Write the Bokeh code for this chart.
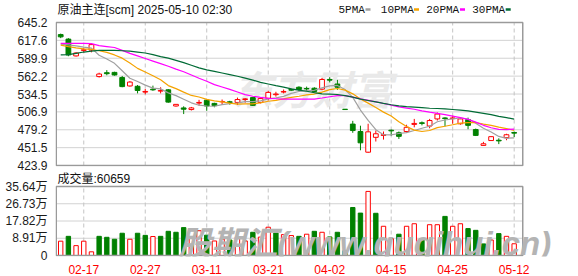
from bokeh.plotting import figure
from bokeh.layouts import column
from bokeh.models import ColumnDataSource, Range1d, FixedTicker, PrintfTickFormatter
from bokeh.core.properties import value
from bokeh.embed import file_html
from bokeh.resources import INLINE

# ---------------- data ----------------
dates = ["02-12", "02-13", "02-14", "02-17", "02-18", "02-19", "02-20", "02-21", "02-24", "02-25",
         "02-26", "02-27", "02-28", "03-03", "03-04", "03-05", "03-06", "03-07", "03-10", "03-11",
         "03-12", "03-13", "03-14", "03-17", "03-18", "03-19", "03-20", "03-21", "03-24", "03-25",
         "03-26", "03-27", "03-28", "03-31", "04-01", "04-02", "04-03", "04-07", "04-08", "04-09",
         "04-10", "04-11", "04-14", "04-15", "04-16", "04-17", "04-18", "04-21", "04-22", "04-23",
         "04-24", "04-25", "04-28", "04-29", "04-30", "05-06", "05-07", "05-08", "05-09", "05-12"]

opens = [626.5, 619.5, 593.5, 602, 602.5, 561.5, 567.5, 568, 560, 547,
         546.5, 537.5, 542, 539, 541, 516, 513, 510.5, 520.5, 525,
         520, 522.5, 522.5, 521.5, 526, 529, 521.5, 528, 533.5, 537.5,
         541.5, 545, 543, 543.5, 542, 557, 550, 511, 488, 476.5,
         444.5, 467.5, 470.5, 478.5, 474.5, 476.5, 487.5, 490, 485, 496,
         497.5, 496.5, 488.5, 495, 479.5, 455, 462.5, 463, 467, 475]
highs = [628, 621, 599, 606.5, 613, 567.5, 571.5, 569, 562.5, 554.5,
         548.5, 542.5, 547.5, 545, 542, 519, 515.5, 514.5, 525.5, 526,
         521, 526, 524, 529, 528, 530, 528, 539.5, 538, 541.5,
         543, 546.5, 546, 545, 559.5, 560.5, 556.5, 511, 493, 485.5,
         488.5, 478, 476.5, 479.5, 476.5, 487, 496, 492, 496, 506,
         498.5, 501, 497.5, 498, 481, 460.5, 469, 466, 473, 476.5]
lows = [621, 593, 592.5, 599, 599, 560, 563.5, 563, 545, 546,
        535.5, 534, 539.5, 535.5, 521, 515, 503.5, 509, 516.5, 508.5,
        514, 518, 518, 517.5, 521, 516, 520, 524.5, 530.5, 535.5,
        539.5, 539.5, 539, 537.5, 540.5, 552.5, 541, 510.5, 474.5, 447.5,
        443.5, 461, 464, 470, 465, 474.5, 483, 486, 481.5, 493.5,
        484.5, 488.5, 487, 480, 469.5, 454.5, 462, 457, 463, 468]
closes = [623, 595, 598, 603, 611, 565.5, 566, 564, 546, 553,
          540, 538.5, 541, 540, 522, 518.5, 511, 513, 521.5, 516,
          516.5, 523, 521.5, 526, 527, 517, 527.5, 537, 534.5, 538.5,
          540.5, 541.5, 542.5, 538.5, 557, 556, 545, 510.5, 478, 459,
          476, 473, 471.5, 477.5, 469, 483, 489, 489, 493.5, 503.5,
          496.5, 497.5, 496, 486, 470.5, 457.5, 468.5, 462, 471.5, 474]

ma5 = [611.8, 610.5, 609.0, 607.0, 605.5, 594.5, 588.7, 582.0, 570.5, 559.0,
       553.8, 548.3, 543.7, 542.5, 536.3, 532.0, 526.5, 520.9, 517.2, 516.0,
       515.6, 518.0, 519.7, 520.6, 522.8, 522.9, 523.8, 526.9, 528.6, 530.9,
       535.6, 538.4, 539.5, 540.3, 544.0, 547.1, 547.8, 541.4, 529.3, 509.7,
       493.7, 479.3, 471.5, 471.4, 473.4, 474.8, 478.0, 481.5, 484.7, 491.6,
       494.3, 496.0, 497.4, 495.9, 489.3, 481.5, 475.7, 468.9, 466.0, 466.7]
ma10 = [610.3, 608.0, 606.0, 604.5, 603.5, 601.5, 598.9, 595.0, 590.0, 582.5,
        574.2, 568.5, 562.8, 556.5, 547.6, 542.9, 537.4, 532.3, 529.9, 526.2,
        523.8, 522.3, 520.3, 518.9, 519.4, 519.3, 520.9, 523.3, 524.6, 526.9,
        529.3, 531.1, 533.2, 534.5, 537.5, 541.4, 543.1, 540.5, 534.8, 526.9,
        520.4, 513.6, 506.5, 500.4, 491.6, 484.3, 478.7, 476.5, 478.1, 482.5,
        484.6, 487.0, 489.5, 490.3, 490.5, 487.9, 485.9, 483.2, 481.0, 478.0]
ma20 = [613.0, 613.0, 613.0, 613.0, 612.5, 609.5, 608.0, 606.5, 602.0, 597.5,
        593.5, 589.5, 585.5, 581.5, 577.5, 573.0, 569.0, 564.0, 559.0, 554.3,
        549.0, 545.4, 541.6, 537.7, 533.5, 531.1, 529.2, 527.8, 527.2, 526.5,
        526.5, 526.7, 526.8, 526.7, 528.4, 530.3, 532.0, 531.9, 529.7, 526.9,
        524.8, 522.3, 519.8, 517.4, 514.5, 512.8, 510.9, 508.5, 506.4, 504.7,
        502.5, 500.3, 498.0, 495.3, 491.0, 486.1, 482.3, 479.8, 479.5, 480.3]
ma30 = [595.0, 595.5, 597.5, 599.5, 601.0, 602.0, 602.0, 602.0, 601.5, 601.0,
        599.5, 598.0, 595.5, 592.5, 590.0, 586.5, 583.0, 579.0, 575.0, 572.0,
        569.5, 567.0, 564.5, 562.0, 559.0, 556.0, 552.5, 550.0, 547.5, 545.2,
        542.4, 540.6, 538.8, 536.6, 534.8, 534.5, 533.8, 532.0, 529.8, 526.6,
        524.5, 522.3, 520.0, 517.9, 516.1, 515.0, 514.2, 513.4, 512.5, 512.1,
        511.4, 510.6, 509.7, 508.4, 506.5, 504.5, 502.5, 500.0, 497.9, 495.8]

# volume in units of 万 (10,000 lots)
volume = [7.4, 9.9, 5.1, 7.4, 1.9, 9.9, 9.4, 8.4, 11.5, 8.4,
          11.5, 10.4, 9.8, 9.9, 12.5, 12.0, 14.4, 9.0, 12.8, 10.5,
          7.5, 8.5, 8.0, 9.5, 7.5, 12.0, 9.5, 14.6, 11.6, 10.8,
          10.3, 9.9, 11.0, 12.5, 12.0, 9.6, 12.0, 2.5, 24.8, 21.9,
          33.1, 21.8, 15.1, 8.7, 11.0, 15.1, 16.4, 8.7, 15.9, 15.9,
          20.2, 15.1, 16.4, 13.9, 13.0, 6.0, 8.0, 11.3, 9.9, 6.0659]
vol_up = [1, 0, 1, 1, 1, 0, 0, 0, 0, 1,
          0, 0, 1, 0, 0, 0, 0, 1, 1, 0,
          1, 1, 0, 1, 1, 0, 1, 1, 0, 1,
          1, 0, 1, 0, 1, 0, 0, 0, 0, 0,
          1, 0, 1, 1, 0, 1, 1, 0, 1, 1,
          0, 1, 1, 0, 0, 0, 1, 0, 1, 1]

price_ticks = [423.9, 451.5, 479.2, 506.9, 534.5, 562.2, 589.9, 617.6, 645.2]
vol_ticks = [0, 8.91, 17.82, 26.73, 35.64]
vol_tick_labels = ["0", "8.91万", "17.82万", "26.73万", "35.64万"]
date_labels = ["02-17", "02-27", "03-11", "03-21", "04-02", "04-15", "04-25", "05-12"]
title_text = "原油主连[scm] 2025-05-10 02:30"
vol_title = "成交量:60659"
ma_names = ["5PMA", "10PMA", "20PMA", "30PMA"]
wm_price = "东方财富"
wm_volume = "股期汇(www.guqihui.cn)"

# ---------------- style / layout constants ----------------
RED = "#ff0000"
GREEN = "#008000"
MA_COLORS = ["#a0a0a0", "#f5a300", "#ff00ff", "#006b35"]
SANS = "Liberation Sans, Noto Sans CJK SC"
GRID_H = "#d2d2d2"
GRID_V = "#c4c4c4"
OUTLINE = "#9a9a9a"
TEXT = "#111111"

n = len(dates)
idx = list(range(n))
tick_pos = [dates.index(d) for d in date_labels]

X0, DX = 60.2, 7.686          # pixel of first candle, pixels per candle
def px(xpix):
    return (xpix - X0) / DX

x_range = Range1d(px(55), px(578))
XL, XR = px(55.75), px(522.25)   # panel border (inside the frame)

P_LO, P_HI = price_ticks[0], price_ticks[-1]
K1 = 143.0 / (P_HI - P_LO)        # px per price unit
V_HI = vol_ticks[-1]
K2 = 69.0 / V_HI                  # px per volume unit

def axis_style(ax):
    ax.axis_line_color = None
    ax.major_tick_line_color = None
    ax.minor_tick_line_color = None
    ax.major_label_text_font = SANS
    ax.major_label_text_font_size = "12px"

def base(fig):
    fig.background_fill_color = "white"
    fig.border_fill_color = "white"
    fig.outline_line_color = None
    fig.xgrid.visible = False
    fig.ygrid.visible = False
    for ax in fig.yaxis:
        axis_style(ax)
        ax.major_label_standoff = 2
        ax.major_label_text_color = "#1a1a1a"

def panel_grid(fig, ticks, lo, hi):
    inner = [t for t in ticks if lo < t < hi]
    fig.segment(x0=[XL] * len(inner), x1=[XR] * len(inner), y0=inner, y1=inner,
                line_color=GRID_H, line_width=1)
    fig.segment(x0=tick_pos, x1=tick_pos, y0=[lo] * len(tick_pos), y1=[hi] * len(tick_pos),
                line_color=GRID_V, line_width=1, line_dash="4 3")

def panel_border(fig, lo, hi):
    fig.quad(left=[XL], right=[XR], bottom=[lo], top=[hi], fill_color=None,
             line_color=OUTLINE, line_width=1.5)

# ---------------- price panel ----------------
p = figure(width=578, height=172, x_range=x_range,
           y_range=Range1d(P_LO - 1.0 / K1, P_HI + 22.0 / K1),
           output_backend="svg", toolbar_location=None, x_axis_location=None,
           min_border_left=55, min_border_right=0, min_border_top=0, min_border_bottom=6)
p.yaxis.ticker = FixedTicker(ticks=price_ticks)
p.yaxis.formatter = PrintfTickFormatter(format="%.1f")
base(p)
panel_grid(p, price_ticks, P_LO, P_HI)

p.text(x=[px(232)], y=[P_HI - (90 - 22) / K1], text=[wm_price], text_font=value(SANS),
       text_font_size="40px", text_font_style="bold italic", text_color="#e9e9e9",
       text_baseline="middle")

up = [c >= o for o, c in zip(opens, closes)]
src = ColumnDataSource(dict(
    x=idx, high=highs, low=lows,
    top=[max(o, c) for o, c in zip(opens, closes)],
    bottom=[min(o, c) for o, c in zip(opens, closes)],
    color=[RED if u else GREEN for u in up],
    fill=["white" if u else GREEN for u in up],
))
p.segment(x0="x", y0="low", x1="x", y1="high", color="color", line_width=1, source=src)
p.vbar(x="x", width=0.62, top="top", bottom="bottom", fill_color="fill",
       line_color="color", line_width=1, source=src)

for vals, col in zip([ma5, ma10, ma20, ma30], MA_COLORS):
    p.line(idx, vals, line_color=col, line_width=1.2)

panel_border(p, P_LO, P_HI)

y_head = P_HI + (22 - 9.5) / K1
p.text(x=[px(57)], y=[y_head], text=[title_text], text_font=value(SANS),
       text_font_size="12px", text_color=TEXT, text_baseline="middle")
leg_text_px = [338, 380.3, 425.7, 471.7]
leg_dash_px = [367.5, 416, 462, 507.7]
p.text(x=[px(t) for t in leg_text_px], y=[y_head] * 4, text=ma_names,
       text_font=value("Liberation Mono"), text_font_size="11px", text_color=TEXT,
       text_baseline="middle")
p.rect(x=[px(d) for d in leg_dash_px], y=[y_head + 0.5 / K1] * 4, width=5, height=2.5,
       width_units="screen", height_units="screen", fill_color=MA_COLORS, line_color=None)

# ---------------- volume panel ----------------
v = figure(width=578, height=104, x_range=x_range,
           y_range=Range1d(-1.0 / K2, V_HI + 14.0 / K2),
           output_backend="svg", toolbar_location=None,
           min_border_left=55, min_border_right=0, min_border_top=0, min_border_bottom=20)
v.yaxis.ticker = FixedTicker(ticks=vol_ticks)
v.yaxis.major_label_overrides = {t: l for t, l in zip(vol_ticks, vol_tick_labels)}
v.xaxis.ticker = FixedTicker(ticks=tick_pos)
v.xaxis.major_label_overrides = {t: l for t, l in zip(tick_pos, date_labels)}
axis_style(v.xaxis[0])
v.xaxis.major_label_standoff = 2
v.xaxis.major_label_text_color = RED
base(v)
panel_grid(v, vol_ticks, 0, V_HI)

vsrc = ColumnDataSource(dict(
    x=idx, vol=volume,
    color=[RED if u else GREEN for u in vol_up],
    fill=["white" if u else GREEN for u in vol_up],
))
v.vbar(x="x", width=0.57, top="vol", bottom=0, fill_color="fill", line_color="color",
       line_width=1, source=vsrc)

panel_border(v, 0, V_HI)

v.text(x=[px(57)], y=[V_HI + (186 - 178) / K2], text=[vol_title], text_font=value(SANS),
       text_font_size="12px", text_color=TEXT, text_baseline="middle")
v.text(x=[px(178)], y=[-(243 - 255) / K2], text=[wm_volume], text_font=value(SANS),
       text_font_size="33px", text_font_style="bold italic", text_color="#b4b4b4",
       text_baseline="middle")

layout = column(p, v)
open("out.html", "w").write(file_html(layout, INLINE))
